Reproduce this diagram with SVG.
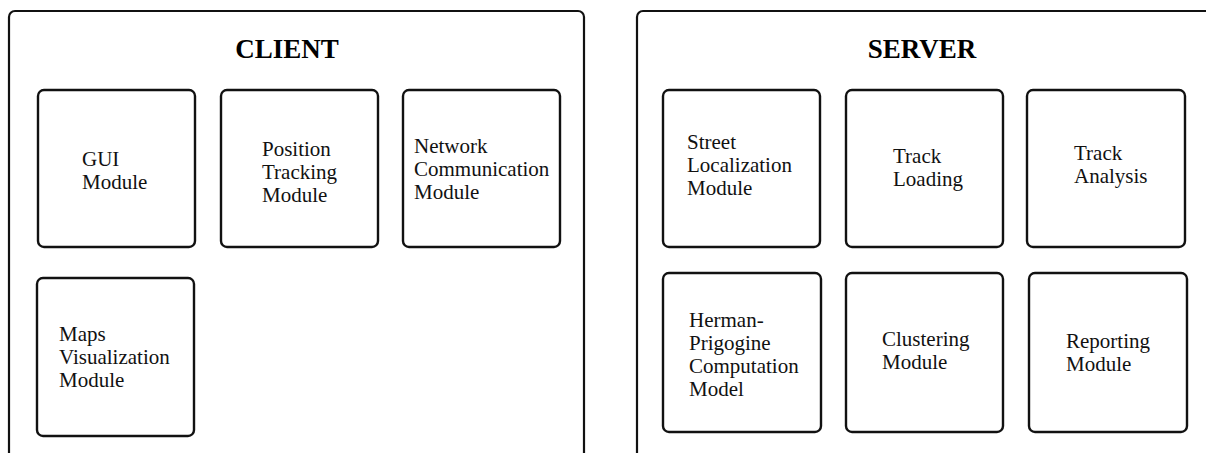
<svg xmlns="http://www.w3.org/2000/svg" width="1206" height="453" viewBox="0 0 1206 453">
<style>
.frame{fill:#fff;stroke:#111;stroke-width:2.2}
.box{fill:#fff;stroke:#111;stroke-width:2.4}
.t{font-family:"Liberation Serif","Times New Roman",serif;font-size:21px;fill:#111}
.h{font-family:"Liberation Serif","Times New Roman",serif;font-size:27px;font-weight:bold;fill:#000}
</style>
<rect width="1206" height="453" fill="#fff"/>
<g id="client">
<rect class="frame" x="9" y="11" width="575" height="460" rx="6"/>
<text class="h" x="287" y="58" text-anchor="middle">CLIENT</text>
</g>
<g id="server">
<rect class="frame" x="637" y="11" width="600" height="460" rx="6"/>
<text class="h" x="922" y="58" text-anchor="middle">SERVER</text>
</g>
<g id="gui">
<rect class="box" x="38" y="90" width="157" height="157" rx="6"/>
<text class="t" x="82" y="166">GUI<tspan x="82" y="189">Module</tspan></text>
</g>
<g id="position">
<rect class="box" x="221" y="90" width="157" height="157" rx="6"/>
<text class="t" x="262" y="156">Position<tspan x="262" y="179">Tracking</tspan><tspan x="262" y="202">Module</tspan></text>
</g>
<g id="network">
<rect class="box" x="403" y="90" width="157" height="157" rx="6"/>
<text class="t" x="414" y="153">Network<tspan x="414" y="176">Communication</tspan><tspan x="414" y="199">Module</tspan></text>
</g>
<g id="maps">
<rect class="box" x="37" y="278" width="157" height="158" rx="6"/>
<text class="t" x="59" y="341">Maps<tspan x="59" y="364">Visualization</tspan><tspan x="59" y="387">Module</tspan></text>
</g>
<g id="street">
<rect class="box" x="663" y="90" width="157" height="157" rx="6"/>
<text class="t" x="687" y="149">Street<tspan x="687" y="172">Localization</tspan><tspan x="687" y="195">Module</tspan></text>
</g>
<g id="trackloading">
<rect class="box" x="846" y="90" width="157" height="157" rx="6"/>
<text class="t" x="893" y="163">Track<tspan x="893" y="186">Loading</tspan></text>
</g>
<g id="trackanalysis">
<rect class="box" x="1027" y="90" width="158" height="157" rx="6"/>
<text class="t" x="1074" y="160">Track<tspan x="1074" y="183">Analysis</tspan></text>
</g>
<g id="herman">
<rect class="box" x="663" y="273" width="158" height="159" rx="6"/>
<text class="t" x="689" y="327">Herman-<tspan x="689" y="350">Prigogine</tspan><tspan x="689" y="373">Computation</tspan><tspan x="689" y="396">Model</tspan></text>
</g>
<g id="clustering">
<rect class="box" x="846" y="273" width="157" height="159" rx="6"/>
<text class="t" x="882" y="346">Clustering<tspan x="882" y="369">Module</tspan></text>
</g>
<g id="reporting">
<rect class="box" x="1029" y="273" width="158" height="159" rx="6"/>
<text class="t" x="1066" y="348">Reporting<tspan x="1066" y="371">Module</tspan></text>
</g>
<g id="connectors"></g>
</svg>
